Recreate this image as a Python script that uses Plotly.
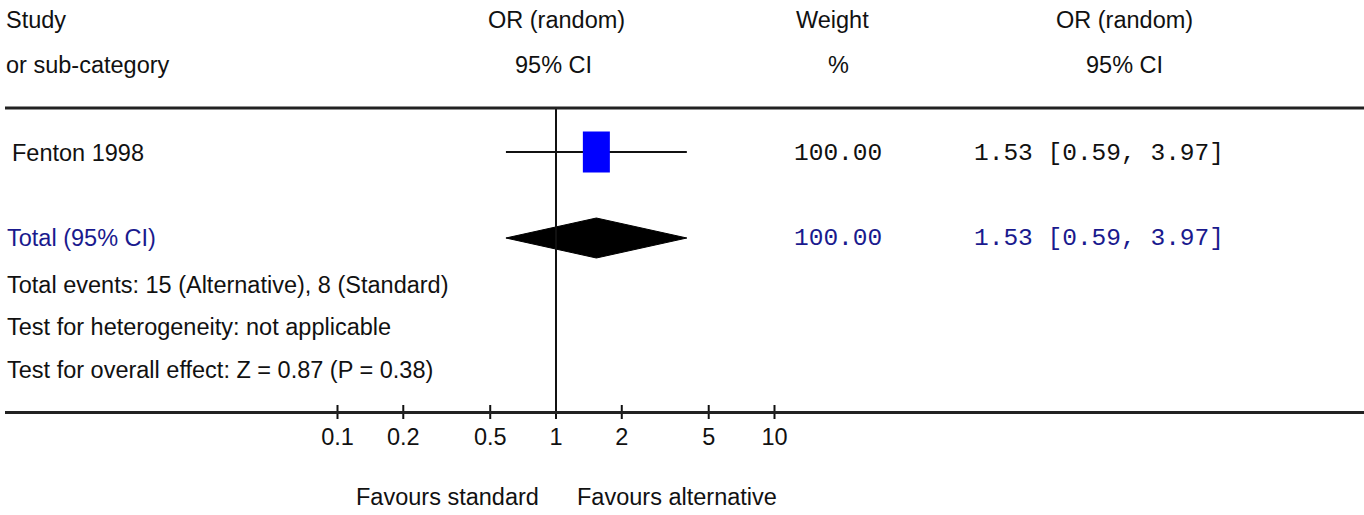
import math
import plotly.graph_objects as go

# ---------------- data ----------------
studies = ["Fenton 1998"]
study_or = [1.53]
study_lo = [0.59]
study_hi = [3.97]
study_weight = [100.00]

total_label = "Total (95% CI)"
total_or = 1.53
total_lo = 0.59
total_hi = 3.97
total_weight = 100.00

tick_vals = [0.1, 0.2, 0.5, 1, 2, 5, 10]
tick_text = ["0.1", "0.2", "0.5", "1", "2", "5", "10"]

header_study = ["Study", "or sub-category"]
header_plot = ["OR (random)", "95% CI"]
header_weight = ["Weight", "%"]
header_ci = ["OR (random)", "95% CI"]

footer_lines = [
    "Total events: 15 (Alternative), 8 (Standard)",
    "Test for heterogeneity: not applicable",
    "Test for overall effect: Z = 0.87 (P = 0.38)",
]
favours_left = "Favours standard"
favours_right = "Favours alternative"

# ---------------- layout geometry ----------------
W, H = 1364, 515
X_START = 5            # left pixel of axis / rules
ONE_PX = 556           # pixel of OR = 1
DECADE_PX = 218.5      # pixels per decade
lo_log = -(ONE_PX - X_START) / DECADE_PX
hi_log = lo_log + (W - X_START) / DECADE_PX

Y_TOP_RULE = 108
Y_AXIS = 412
Y_HEAD1, Y_HEAD2 = 20, 65
Y_STUDY0 = 152
Y_TOTAL = 238
Y_FOOT = [285, 327, 370]
Y_FAV = 497

SANS = "Liberation Sans, Arial, sans-serif"
MONO = "Liberation Mono, Courier New, monospace"
SANS_SIZE = 23.5
MONO_SIZE = 24.5
BLACK = "#111111"
NAVY = "#1a1a8e"


def px(x):
    return x / W


fig = go.Figure()

# study rows: CI line + weighted box
for i, (name, est, lo, hi, w) in enumerate(zip(studies, study_or, study_lo, study_hi, study_weight)):
    y = Y_STUDY0 + i * 50
    fig.add_trace(go.Scatter(x=[lo, hi], y=[y, y], mode="lines",
                             line=dict(color=BLACK, width=2), hoverinfo="skip"))
    half_w = 13.5 * math.sqrt(w / 100.0) / DECADE_PX
    half_h = 20.5 * math.sqrt(w / 100.0)
    bx = [est * 10 ** -half_w, est * 10 ** half_w, est * 10 ** half_w, est * 10 ** -half_w, est * 10 ** -half_w]
    by = [y - half_h, y - half_h, y + half_h, y + half_h, y - half_h]
    fig.add_trace(go.Scatter(x=bx, y=by, mode="lines", fill="toself",
                             fillcolor="#0000ff", line=dict(color="#0000ff", width=0),
                             hoverinfo="skip"))
    fig.add_annotation(x=px(10), y=y + 1, xref="paper", yref="y", text=name,
                       showarrow=False, xanchor="left", yanchor="middle",
                       font=dict(family=SANS, size=SANS_SIZE, color=BLACK))
    fig.add_annotation(x=px(792), y=y + 1, xref="paper", yref="y", text=f"{w:.2f}",
                       showarrow=False, xanchor="left", yanchor="middle",
                       font=dict(family=MONO, size=MONO_SIZE, color=BLACK))
    fig.add_annotation(x=px(972), y=y + 1, xref="paper", yref="y",
                       text=f"{est:.2f} [{lo:.2f}, {hi:.2f}]",
                       showarrow=False, xanchor="left", yanchor="middle",
                       font=dict(family=MONO, size=MONO_SIZE, color=BLACK))

# total diamond
fig.add_trace(go.Scatter(x=[total_lo, total_or, total_hi, total_or, total_lo],
                         y=[Y_TOTAL, Y_TOTAL - 20, Y_TOTAL, Y_TOTAL + 20, Y_TOTAL],
                         mode="lines", fill="toself", fillcolor="#000000",
                         line=dict(color="#000000", width=1), hoverinfo="skip"))
fig.add_annotation(x=px(5), y=Y_TOTAL, xref="paper", yref="y", text=total_label,
                   showarrow=False, xanchor="left", yanchor="middle",
                   font=dict(family=SANS, size=SANS_SIZE, color=NAVY))
fig.add_annotation(x=px(792), y=Y_TOTAL, xref="paper", yref="y", text=f"{total_weight:.2f}",
                   showarrow=False, xanchor="left", yanchor="middle",
                   font=dict(family=MONO, size=MONO_SIZE, color=NAVY))
fig.add_annotation(x=px(972), y=Y_TOTAL, xref="paper", yref="y",
                   text=f"{total_or:.2f} [{total_lo:.2f}, {total_hi:.2f}]",
                   showarrow=False, xanchor="left", yanchor="middle",
                   font=dict(family=MONO, size=MONO_SIZE, color=NAVY))

# line of no effect
fig.add_trace(go.Scatter(x=[1, 1], y=[Y_TOP_RULE, Y_AXIS], mode="lines",
                         line=dict(color=BLACK, width=2), hoverinfo="skip"))

# crossing tick marks
tx, ty = [], []
for t in tick_vals:
    tx += [t, t, None]
    ty += [Y_AXIS - 7, Y_AXIS + 7, None]
fig.add_trace(go.Scatter(x=tx, y=ty, mode="lines", line=dict(color=BLACK, width=2),
                         hoverinfo="skip"))

# headers
for txt, y in zip(header_study, [Y_HEAD1, Y_HEAD2]):
    fig.add_annotation(x=px(4), y=y, xref="paper", yref="y", text=txt, showarrow=False,
                       xanchor="left", yanchor="middle",
                       font=dict(family=SANS, size=SANS_SIZE, color=BLACK))
for txt, y, cx in zip(header_plot, [Y_HEAD1, Y_HEAD2], [556, 553]):
    fig.add_annotation(x=px(cx), y=y, xref="paper", yref="y", text=txt, showarrow=False,
                       xanchor="center", yanchor="middle",
                       font=dict(family=SANS, size=SANS_SIZE, color=BLACK))
for txt, y, cx in zip(header_weight, [Y_HEAD1, Y_HEAD2], [832, 838]):
    fig.add_annotation(x=px(cx), y=y, xref="paper", yref="y", text=txt, showarrow=False,
                       xanchor="center", yanchor="middle",
                       font=dict(family=SANS, size=SANS_SIZE, color=BLACK))
for txt, y in zip(header_ci, [Y_HEAD1, Y_HEAD2]):
    fig.add_annotation(x=px(1124), y=y, xref="paper", yref="y", text=txt, showarrow=False,
                       xanchor="center", yanchor="middle",
                       font=dict(family=SANS, size=SANS_SIZE, color=BLACK))

# footer text
for txt, y in zip(footer_lines, Y_FOOT):
    fig.add_annotation(x=px(5), y=y, xref="paper", yref="y", text=txt, showarrow=False,
                       xanchor="left", yanchor="middle",
                       font=dict(family=SANS, size=SANS_SIZE, color=BLACK))

fig.add_annotation(x=px(541), y=Y_FAV, xref="paper", yref="y", text=favours_left,
                   showarrow=False, xanchor="right", yanchor="middle",
                   font=dict(family=SANS, size=SANS_SIZE, color=BLACK))
fig.add_annotation(x=px(575), y=Y_FAV, xref="paper", yref="y", text=favours_right,
                   showarrow=False, xanchor="left", yanchor="middle",
                   font=dict(family=SANS, size=SANS_SIZE, color=BLACK))

# top rule
fig.add_shape(type="line", xref="paper", yref="y", x0=px(X_START), x1=1,
              y0=Y_TOP_RULE, y1=Y_TOP_RULE, line=dict(color="#222222", width=3))

fig.update_layout(
    width=W, height=H,
    margin=dict(l=0, r=0, t=0, b=0),
    paper_bgcolor="white", plot_bgcolor="white",
    showlegend=False,
    xaxis=dict(type="log", range=[lo_log, hi_log], domain=[px(X_START), 1],
               anchor="free", position=1 - Y_AXIS / H,
               showline=True, linecolor="#222222", linewidth=3,
               showgrid=False, zeroline=False,
               tickmode="array", tickvals=tick_vals, ticktext=tick_text,
               ticks="", ticklabelstandoff=3,
               tickfont=dict(family=SANS, size=SANS_SIZE, color=BLACK),
               fixedrange=True),
    yaxis=dict(range=[H, 0], visible=False, fixedrange=True, domain=[0, 1]),
)

fig.write_html("out.html", config={"displayModeBar": False})
